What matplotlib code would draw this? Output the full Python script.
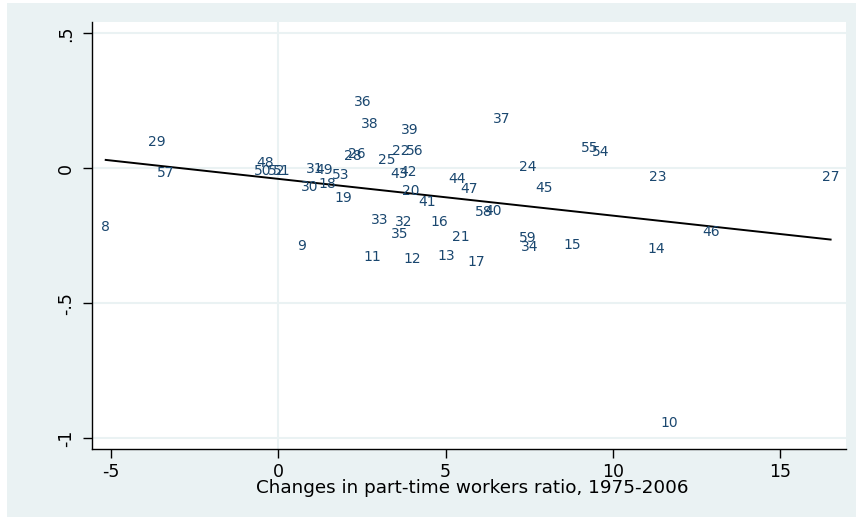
import numpy as np
import matplotlib
matplotlib.use("Agg")
import matplotlib.pyplot as plt
from matplotlib.patches import Rectangle

# Region identifiers and their coordinates
ids = [8, 29, 57, 48, 50, 52, 51, 31, 49, 53, 30, 18, 9, 19,
       36, 38, 39, 37, 28, 26, 22, 56, 25, 43, 42, 44, 47, 24,
       45, 20, 41, 58, 40, 33, 32, 16, 35, 21, 59, 34, 15, 11,
       12, 13, 17, 55, 54, 23, 27, 46, 14, 10]

parttime_change = [-5.16, -3.64, -3.36, -0.40, -0.46, -0.04, 0.11, 1.10, 1.37, 1.85,
                   0.93, 1.46, 0.70, 1.93, 2.52, 2.74, 3.92, 6.68, 2.24, 2.35,
                   3.66, 4.09, 3.24, 3.61, 3.89, 5.33, 5.71, 7.46, 7.95, 3.96,
                   4.45, 6.15, 6.42, 3.04, 3.74, 4.80, 3.64, 5.45, 7.46, 7.50,
                   8.80, 2.82, 3.99, 5.01, 5.93, 9.32, 9.65, 11.33, 16.51, 12.94,
                   11.30, 11.68]

outcome = [-0.216, 0.099, -0.019, 0.020, -0.010, -0.010, -0.010, -0.003, -0.006, -0.025,
           -0.068, -0.059, -0.287, -0.109, 0.244, 0.164, 0.142, 0.181, 0.046, 0.053,
           0.065, 0.065, 0.031, -0.021, -0.015, -0.041, -0.076, 0.004, -0.074, -0.085,
           -0.126, -0.162, -0.158, -0.191, -0.200, -0.200, -0.243, -0.254, -0.258, -0.291,
           -0.284, -0.330, -0.336, -0.325, -0.348, 0.075, 0.062, -0.033, -0.033, -0.237,
           -0.300, -0.943]

xticks = [-5, 0, 5, 10, 15]
xticklabels = ["-5", "0", "5", "10", "15"]
yticks = [0.5, 0, -0.5, -1]
yticklabels = [".5", "0", "-.5", "-1"]
xlabel = "Changes in part-time workers ratio, 1975-2006"

BG = "#eaf2f3"
LABEL_COLOR = "#1a476f"

plt.rcParams["font.family"] = ["DejaVu Sans"]

fig = plt.figure(figsize=(8.56, 5.17), dpi=100)
fig.patch.set_facecolor("white")
# graph region background
fig.patches.append(Rectangle((7 / 856, 0), 1 - 7 / 856, 1 - 3 / 517,
                             transform=fig.transFigure, facecolor=BG,
                             edgecolor="none", zorder=-10))

ax = fig.add_axes([92 / 856, 1 - 449 / 517, (846 - 92) / 856, (449 - 22) / 517])
ax.set_facecolor("white")

x = np.array(parttime_change)
y = np.array(outcome)

# gridlines and reference line at zero
for yt in yticks:
    ax.axhline(yt, color=BG, lw=1.5, zorder=0)
ax.axvline(0, color=BG, lw=1.5, zorder=0)

# linear fit over the range of the data
slope, intercept = np.polyfit(x, y, 1)
xf = np.array([x.min(), x.max()])
ax.plot(xf, intercept + slope * xf, color="black", lw=1.4, zorder=2)

# point labels, centred on each observation
for i, xi, yi in zip(ids, x, y):
    ax.text(xi, yi, str(i), ha="center", va="center", fontsize=10,
            color=LABEL_COLOR, zorder=3)

ax.set_xlim(-5.57, 16.97)
ax.set_ylim(-1.0396, 0.5419)

ax.set_xticks(xticks)
ax.set_xticklabels(xticklabels)
ax.set_yticks(yticks)
ax.set_yticklabels(yticklabels, rotation=90, va="center")

for side in ["top", "right"]:
    ax.spines[side].set_visible(False)
for side in ["left", "bottom"]:
    ax.spines[side].set_color("black")
    ax.spines[side].set_linewidth(1.0)

ax.tick_params(axis="both", length=6.3, width=1.0, color="black",
               labelsize=12.5, labelcolor="black")
ax.tick_params(axis="x", pad=3.5)
ax.tick_params(axis="y", pad=5.7)

ax.set_xlabel(xlabel, fontsize=13.2, color="black", va="center")
ax.xaxis.set_label_coords((472 - 92) / 754, -(488 - 449) / 427)

fig.savefig("out.png", dpi=100, facecolor=fig.get_facecolor())
